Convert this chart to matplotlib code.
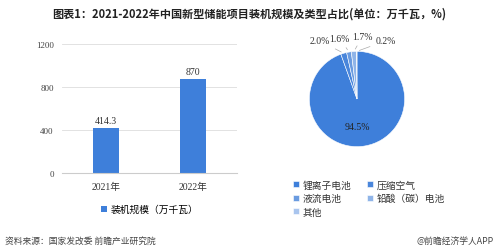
import numpy as np
import matplotlib
matplotlib.use("Agg")
import matplotlib.pyplot as plt

plt.rcParams['font.family'] = ['Noto Sans CJK SC', 'DejaVu Sans']

years = ['2021年', '2022年']
capacity = [414.3, 870]
bar_labels = ['414.3', '870']
y_ticks = [0, 400, 800, 1200]

pie_names = ['锂离子电池', '压缩空气', '液流电池', '铅酸（碳）电池', '其他']
pie_share = [94.5, 2.0, 1.6, 1.7, 0.2]
pie_colors = ['#3E7FDA', '#4A86DB', '#6A9BE0', '#8FB4E8', '#A9C5EE']

serif = ['Liberation Serif', 'Noto Sans CJK SC']

fig = plt.figure(figsize=(4.99, 2.53), dpi=100)
W, H = 499, 253

fig.text(249 / W, 1 - 14 / H, '图表1：2021-2022年中国新型储能项目装机规模及类型占比(单位：万千瓦，%)',
         ha='center', va='center', fontsize=8, fontweight='bold', color='#222222')

# bar chart
ax = fig.add_axes([62 / W, 1 - 174 / H, 175 / W, 129 / H])
x = np.arange(len(years))
bars = ax.bar(x, capacity, width=0.3, color='#3E7FDA', label='装机规模（万千瓦）')
for b, t in zip(bars, bar_labels):
    ax.text(b.get_x() + b.get_width() / 2, b.get_height() + 30, t, ha='center', va='bottom',
            fontsize=7, color='#333333', family=serif)
ax.set_xlim(-0.5, 1.5)
ax.set_ylim(0, 1200)
ax.set_yticks(y_ticks)
ax.set_yticklabels([str(v) for v in y_ticks], family=serif, fontsize=6.5, color='#444444')
ax.set_xticks(x)
ax.set_xticklabels(years, family=serif, fontsize=7, color='#333333')
ax.grid(axis='y', color='#DDDDDD', lw=0.6)
ax.set_axisbelow(True)
for s in ['top', 'right', 'left']:
    ax.spines[s].set_visible(False)
ax.spines['bottom'].set_color('#CCCCCC')
ax.tick_params(length=0, pad=6)
ax.legend(loc='center', bbox_to_anchor=(0.5, -0.28), frameon=False, fontsize=7,
          handlelength=0.6, handleheight=0.6, handletextpad=0.4)

# pie chart
pax = fig.add_axes([(357 - 50) / W, 1 - 150 / H, 100 / W, 100 / H])
wedges, _ = pax.pie(pie_share, colors=pie_colors, startangle=90, counterclock=False,
                    wedgeprops=dict(edgecolor='white', linewidth=0.4))
pax.set_aspect('equal')
pax.text(0, -0.57, '94.5%', ha='center', va='center', fontsize=7, family=serif, color='#222222')
label_pos = [(-0.78, 1.22), (-0.36, 1.28), (0.12, 1.32), (0.6, 1.22)]
for w, v, (tx, ty) in zip(wedges[1:], pie_share[1:], label_pos):
    ang = np.deg2rad((w.theta1 + w.theta2) / 2)
    px, py = np.cos(ang), np.sin(ang)
    pax.annotate(f'{v:.1f}%', xy=(px, py), xytext=(tx, ty), ha='center', va='center',
                 fontsize=7, family=serif, color='#333333',
                 arrowprops=dict(arrowstyle='-', color='#AAAAAA', lw=0.5))
pax.set_xlim(-1.05, 1.05)
pax.set_ylim(-1.05, 1.05)

# legend rows: fill order so that it reads row by row
order = [0, 2, 4, 1, 3]
fig.legend([wedges[i] for i in order], [pie_names[i] for i in order], loc='upper left',
           bbox_to_anchor=(284 / W, 1 - 172 / H), ncol=2, frameon=False, fontsize=7,
           handlelength=0.6, handleheight=0.6, handletextpad=0.4, columnspacing=1.6,
           labelspacing=0.35, labelcolor='#333333')

fig.text(5 / W, 1 - 241 / H, '资料来源：国家发改委 前瞻产业研究院', ha='left', va='center',
         fontsize=6.3, color='#444444')
fig.text(494 / W, 1 - 241 / H, '@前瞻经济学人APP', ha='right', va='center',
         fontsize=6.3, color='#444444')

fig.savefig('out.png', dpi=100)
